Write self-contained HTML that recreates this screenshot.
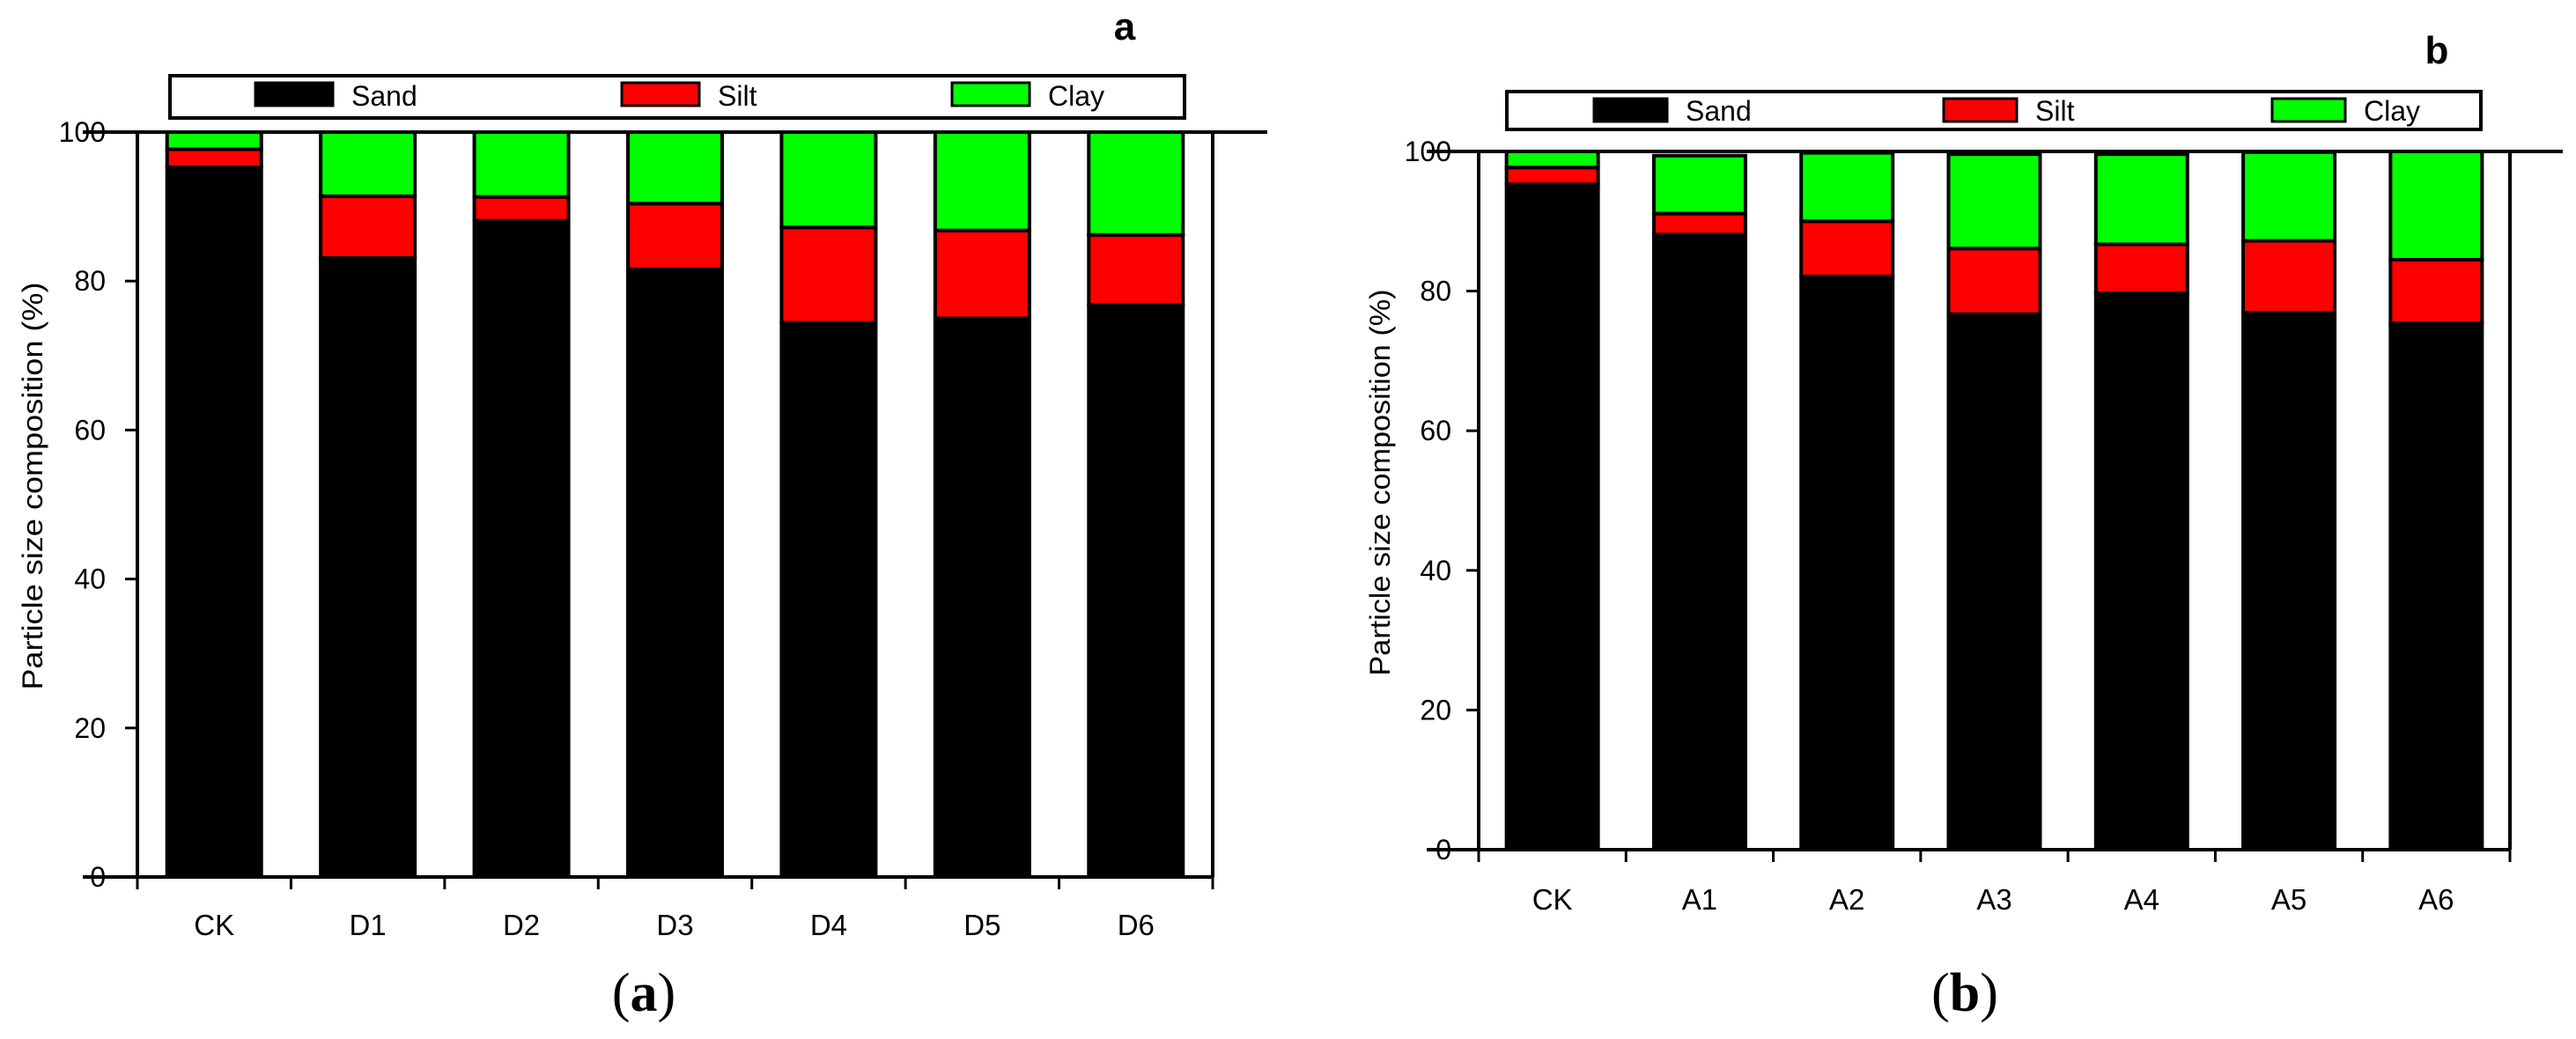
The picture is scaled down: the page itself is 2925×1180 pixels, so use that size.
<!DOCTYPE html>
<html><head><meta charset="utf-8"><style>
html,body{margin:0;padding:0;background:#fff;}
svg{display:block;font-family:"Liberation Sans",sans-serif;}
</style></head><body>
<svg id="fig" width="2925" height="1180" viewBox="0 0 2925 1180" xmlns="http://www.w3.org/2000/svg">
<g id="chartA"></g>
<g id="chartB"></g>
</svg>
<script>
const catsA = ["CK","D1","D2","D3","D4","D5","D6"];
const sandA = [95.3, 83.1, 88.1, 81.6, 74.4, 75.0, 76.8];
const siltA = [2.4, 8.3, 3.2, 8.8, 12.8, 11.8, 9.4];
const clayA = [2.3, 8.6, 8.7, 9.6, 12.8, 13.2, 13.8];
const catsB = ["CK","A1","A2","A3","A4","A5","A6"];
const sandB = [95.3, 88.1, 82.1, 76.7, 79.7, 76.9, 75.4];
const siltB = [2.4, 3.0, 7.9, 9.4, 7.0, 10.3, 9.1];
const clayB = [2.3, 8.3, 9.8, 13.5, 12.9, 12.7, 15.5];
const yTicks = [0, 20, 40, 60, 80, 100];
const legendNames = ["Sand","Silt","Clay"];

const NS = "http://www.w3.org/2000/svg";
function mk(parent, tag, attrs, text){
  const e = document.createElementNS(NS, tag);
  for (const k in attrs) e.setAttribute(k, attrs[k]);
  if (text !== undefined) e.textContent = text;
  parent.appendChild(e);
  return e;
}
const colors = ["#000000","#ff0000","#00ff00"];

function drawChart(g, cfg, cats, series){
  const y = v => cfg.y0 - (cfg.y0 - cfg.y100) * v / 100;
  const step = (cfg.xR - cfg.xL) / cats.length;
  const x = i => cfg.xL + step * (i + 0.5);
  let e;
  e = mk(g, "line", {x1: cfg.xL, y1: cfg.y100, x2: cfg.xL, y2: cfg.y0 + 2, stroke: "#000", "stroke-width": 4});
  
  
  e = mk(g, "line", {x1: cfg.xR, y1: cfg.y100, x2: cfg.xR, y2: cfg.y0, stroke: "#000", "stroke-width": 4});
  
  
  cats.forEach((c, i) => {
    let base = 0;
    series.forEach((s, k) => {
      const v = s[i];
      const r = mk(g, "rect", {x: x(i) - cfg.bw / 2, y: y(base + v), width: cfg.bw, height: y(base) - y(base + v), fill: colors[k], stroke: "#000", "stroke-width": 4});
      
      
      base += v;
    });
    const t = mk(g, "text", {x: x(i), y: cfg.xlabY, "font-size": 33, "text-anchor": "middle"}, c);
    
    
  });
  e = mk(g, "line", {x1: cfg.tickL0, y1: cfg.y100, x2: cfg.topEnd, y2: cfg.y100, stroke: "#000", "stroke-width": 4});
  
  
  e = mk(g, "line", {x1: cfg.tickL0, y1: cfg.y0, x2: cfg.xR, y2: cfg.y0, stroke: "#000", "stroke-width": 4});
  
  
  for (let i = 0; i <= cats.length; i++){
    const tx = cfg.xL + step * i;
    e = mk(g, "line", {x1: tx, y1: cfg.y0, x2: tx, y2: cfg.y0 + 14, stroke: "#000", "stroke-width": 3});
    
    
  }
  yTicks.forEach(v => {
    e = mk(g, "line", {x1: cfg.xL - 14, y1: y(v), x2: cfg.xL, y2: y(v), stroke: "#000", "stroke-width": 3});
    
    
    const t = mk(g, "text", {x: cfg.ylabR, y: y(v) + 11, "font-size": 32, "text-anchor": "end"}, String(v));
    
    
  });
  const tt = mk(g, "text", {x: 0, y: 0, "font-size": 32, "text-anchor": "middle", textLength: cfg.titleLen, lengthAdjust: "spacingAndGlyphs", transform: `translate(${cfg.titleX},${cfg.titleY}) rotate(-90)`}, "Particle size composition (%)");
  
  
  const lg = mk(g, "g", {});
  
  
  e = mk(lg, "rect", {x: cfg.lg[0], y: cfg.lg[1], width: cfg.lg[2] - cfg.lg[0], height: cfg.lg[3] - cfg.lg[1], fill: "#fff", stroke: "#000", "stroke-width": 4});
  
  
  legendNames.forEach((n, k) => {
    const sx = cfg.sw[k];
    const sw = mk(lg, "rect", {x: sx, y: cfg.swY, width: cfg.swW, height: 26, fill: colors[k], stroke: "#000", "stroke-width": 3});
    
    
    const t = mk(lg, "text", {x: sx + cfg.swW + 21, y: cfg.lgBase, "font-size": 32}, n);
    
    
  });
  e = mk(g, "text", {x: cfg.letX, y: cfg.letY, "font-size": 44, "font-weight": "bold", "text-anchor": "middle"}, cfg.letter);
  
  
  e = mk(g, "text", {x: cfg.capX, y: 1148, "font-size": 62, "text-anchor": "middle", "font-family": "Liberation Serif, serif"}, "");
  
  
  mk(e, "tspan", {}, "(");
  mk(e, "tspan", {"font-weight": "bold"}, cfg.letter);
  mk(e, "tspan", {}, ")");
}

drawChart(document.getElementById("chartA"), {
  xL: 156, xR: 1377, y0: 996, y100: 150, bw: 107, topEnd: 1439, tickL0: 94,
  xlabY: 1062, ylabR: 120, titleX: 48, titleY: 552, titleLen: 463,
  lg: [193, 86, 1345, 134], sw: [290, 706, 1081], swW: 88, swY: 94, lgBase: 120,
  letter: "a", letX: 1277, letY: 45, capX: 731
}, catsA, [sandA, siltA, clayA]);

drawChart(document.getElementById("chartB"), {
  xL: 1679, xR: 2850, y0: 965, y100: 172, bw: 104, topEnd: 2910, tickL0: 1620,
  xlabY: 1033, ylabR: 1648, titleX: 1578, titleY: 548, titleLen: 439,
  lg: [1711, 104, 2817, 147], sw: [1810, 2207, 2580], swW: 83, swY: 112, lgBase: 137,
  letter: "b", letX: 2767, letY: 72, capX: 2231
}, catsB, [sandB, siltB, clayB]);
</script>
</body></html>
